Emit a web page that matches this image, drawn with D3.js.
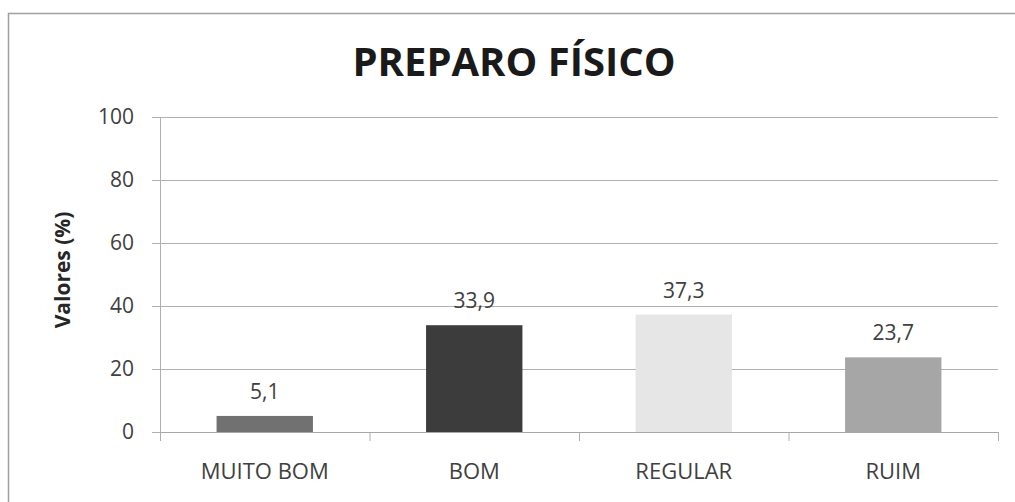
<!DOCTYPE html>
<html><head><meta charset="utf-8">
<script src="https://cdn.jsdelivr.net/npm/d3@7"></script>
<style>body{margin:0;background:#fff}svg{display:block}</style>
</head><body>
<svg id="c" width="1015" height="502"></svg>
<script>
const categories = ["MUITO BOM", "BOM", "REGULAR", "RUIM"];
const values = [5.1, 33.9, 37.3, 23.7];
const valueLabels = ["5,1", "33,9", "37,3", "23,7"];
const barColors = ["#717171", "#3c3c3c", "#e6e6e6", "#a6a6a6"];
const yTicks = [0, 20, 40, 60, 80, 100];
const title = "PREPARO FÍSICO";
const yTitle = "Valores (%)";

const svg = d3.select("#c");
const font = "'Open Sans', sans-serif";
const L = 160, R = 998, T = 117, B = 432;

// outer border (top + left)
svg.append("path").attr("d", "M8.5,502 L8.5,13.5 L1015,13.5")
  .attr("fill", "none").attr("stroke", "#a0a0a0").attr("stroke-width", 1.5);

const x = d3.scaleBand().domain(categories).range([L, R]).paddingInner(0.54).paddingOuter(0.27);
const y = d3.scaleLinear().domain([0, 100]).range([B, T]);

// gridlines
svg.append("g").selectAll("line").data(yTicks).join("line")
  .attr("x1", L - 8).attr("x2", R)
  .attr("y1", d => y(d) + 0.5).attr("y2", d => y(d) + 0.5)
  .attr("stroke", "#b0b0b0").attr("stroke-width", 1);

// y axis line
svg.append("line").attr("x1", L + 0.5).attr("x2", L + 0.5).attr("y1", T).attr("y2", B + 9)
  .attr("stroke", "#b0b0b0");

// y tick labels
svg.append("g").selectAll("text").data(yTicks).join("text")
  .attr("x", 134).attr("y", d => y(d)).attr("dy", "0.35em")
  .attr("text-anchor", "end").attr("font-family", font).attr("font-size", 21)
  .attr("fill", "#404040").text(d => d);

// x category ticks
const bounds = categories.map((c, i) => L + (R - L) / categories.length * (i + 1));
svg.append("g").selectAll("line").data(bounds).join("line")
  .attr("x1", d => d + 0.5).attr("x2", d => d + 0.5).attr("y1", B).attr("y2", B + 9)
  .attr("stroke", "#b0b0b0");

// bars
svg.append("g").selectAll("rect").data(categories).join("rect")
  .attr("x", d => x(d)).attr("width", x.bandwidth())
  .attr("y", (d, i) => y(values[i])).attr("height", (d, i) => y(0) - y(values[i]))
  .attr("fill", (d, i) => barColors[i]);

// baseline over bars
svg.append("line").attr("x1", L).attr("x2", R).attr("y1", B + 0.5).attr("y2", B + 0.5)
  .attr("stroke", "#a8a8a8");

// value labels
svg.append("g").selectAll("text").data(categories).join("text")
  .attr("x", d => x(d) + x.bandwidth() / 2)
  .attr("y", (d, i) => y(values[i]) - 17)
  .attr("text-anchor", "middle").attr("font-family", font).attr("font-size", 21)
  .attr("fill", "#404040").text((d, i) => valueLabels[i]);

// category labels
svg.append("g").selectAll("text").data(categories).join("text")
  .attr("x", d => x(d) + x.bandwidth() / 2).attr("y", 479)
  .attr("text-anchor", "middle").attr("font-family", font).attr("font-size", 22)
  .attr("fill", "#404040").text(d => d);

// title
svg.append("text").attr("x", 514).attr("y", 76).attr("text-anchor", "middle")
  .attr("font-family", font).attr("font-weight", "bold").attr("font-size", 40)
  .attr("fill", "#1a1a1a").text(title);

// y title
svg.append("text").attr("transform", "translate(70,270) rotate(-90)")
  .attr("text-anchor", "middle").attr("font-family", font).attr("font-weight", "bold")
  .attr("font-size", 21).attr("fill", "#262626").text(yTitle);
</script>
</body></html>
